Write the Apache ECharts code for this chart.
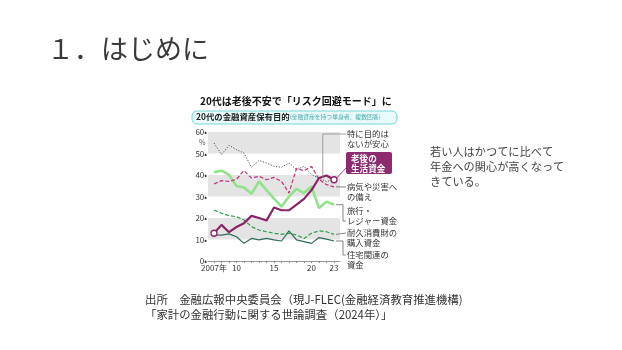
<!DOCTYPE html>
<html><head><meta charset="utf-8">
<script src="https://cdn.jsdelivr.net/npm/echarts@6/dist/echarts.min.js"></script>
<style>html,body{margin:0;padding:0;background:#fff}#c{width:622px;height:350px}</style>
</head><body><div id="c"></div>
<script>
// ---- data ----
const years = [2007,2008,2009,2010,2011,2012,2013,2014,2015,2016,2017,2018,2019,2020,2021,2022,2023];
const noPurpose  = [54.9,49.5,53.8,51.8,50.2,43.6,46.7,45.6,44.0,43.6,45.6,42.5,44.0,40.1,38.6,37.0,37.8];
const retirement = [12.9,16.8,13.4,15.8,17.6,21.0,20.0,18.8,24.9,23.6,23.6,26.2,28.9,33.0,38.6,39.8,37.8];
const illness    = [35.8,37.4,37.0,38.0,42.0,38.6,39.4,37.8,38.9,37.0,31.6,43.0,42.0,44.0,38.0,35.5,34.5];
const leisure    = [41.3,42.0,40.1,34.9,34.2,31.3,37.0,33.0,29.0,25.3,30.0,33.6,31.6,34.7,24.6,27.6,26.2];
const durables   = [23.7,22.2,21.1,20.6,19.1,16.0,14.4,13.6,12.9,12.4,12.9,12.1,10.5,12.9,14.0,13.6,12.4];
const housing    = [12.1,12.0,12.6,11.3,8.2,10.5,9.8,10.5,9.8,9.3,14.0,9.8,9.0,8.2,10.9,10.2,9.3];
const xLabelYears = [2007,2010,2015,2020,2023];
const xLabelTexts = ['2007年','10','15','20','23'];
const yTicks = [0,10,20,30,40,50,60];

const FONT = '"Noto Sans CJK JP", "Noto Sans", sans-serif';
const pairs = arr => years.map((y,i)=>[y,arr[i]]);

const chart = echarts.init(document.getElementById('c'), null, {renderer:'canvas'});

const retData = pairs(retirement).map((p,i,a)=>{
  if(i===0||i===a.length-1){
    return {value:p, symbol:'circle', symbolSize:6, itemStyle:{color:'#fff', borderColor:'#8a2468', borderWidth:1.3}};
  }
  return {value:p, symbol:'none'};
});

chart.setOption({
  animation:false,
  backgroundColor:'#fff',
  textStyle:{fontFamily:FONT},
  grid:{left:208, right:282, top:132, bottom:89},
  xAxis:{
    type:'value', min:2006.2, max:2023.8,
    axisLine:{show:true, lineStyle:{color:'#999', width:1}},
    axisTick:{show:true, customValues:years, length:2, lineStyle:{color:'#888'}},
    axisLabel:{customValues:xLabelYears, fontSize:8, color:'#333', margin:3,
      formatter:v=>{const i=xLabelYears.indexOf(Math.round(v)); return i>=0?xLabelTexts[i]:'';}},
    splitLine:{show:false}
  },
  yAxis:{
    type:'value', min:0, max:60, interval:10,
    axisLine:{show:false}, axisTick:{show:false},
    axisLabel:{fontSize:8, color:'#333', margin:1, formatter:v=>yTicks.includes(v)? v+'•':''},
    splitLine:{show:false},
    splitArea:{show:true, areaStyle:{color:['rgba(255,255,255,0)','#e4e4e4']}}
  },
  series:[
    {type:'line', name:'旅行・レジャー資金', data:pairs(leisure), symbol:'none', lineStyle:{color:'#92e28c', width:2.6}, z:2},
    {type:'line', name:'特に目的はないが安心', data:pairs(noPurpose), symbol:'none', lineStyle:{color:'#555', width:1, type:[1.2,1.6]}, z:3},
    {type:'line', name:'病気や災害への備え', data:pairs(illness), symbol:'none', lineStyle:{color:'#c2307c', width:1.2, type:[4,2]}, z:3},
    {type:'line', name:'耐久消費財の購入資金', data:pairs(durables), symbol:'none', lineStyle:{color:'#2c9e4c', width:1.2, type:[4,2]}, z:3},
    {type:'line', name:'住宅関連の資金', data:pairs(housing), symbol:'none', lineStyle:{color:'#2f6b5a', width:1.2}, z:3},
    {type:'line', name:'老後の生活資金', data:retData, symbol:'none', lineStyle:{color:'#8a2468', width:2.2}, z:4}
  ]
});

// ---- annotations / texts ----
const px = (si, x, y) => chart.convertToPixel({seriesIndex:si}, [x,y]);
const last = arr => arr[arr.length-1];
const endYear = last(years);

const pNo  = px(1, 2021.5, (noPurpose[14]+noPurpose[15])/2);
const pRet = px(5, endYear, last(retirement));
const pIll = px(2, endYear, last(illness));
const pLei = px(0, endYear, last(leisure));
const pDur = px(3, endYear, last(durables));
const pHou = px(4, endYear, last(housing));

const LX = 347;
const lbl = (y, t) => ({type:'text', left:LX, top:y, style:{text:t, font:'8.4px '+FONT, fill:'#333', lineHeight:10}});
const pl = (pts, color) => ({type:'polyline', shape:{points:pts}, style:{stroke:color||'#777', lineWidth:0.8, fill:null}, z:10});

chart.setOption({graphic:[
  {type:'text', left:47, top:35, style:{text:'１．はじめに', font:'27px '+FONT, fill:'#3a3a3a'}},
  {type:'text', left:200, top:96, style:{text:'20代は老後不安で「リスク回避モード」に', font:'bold 10px '+FONT, fill:'#111'}},
  {type:'rect', shape:{x:192, y:111, width:205, height:13, r:5}, style:{fill:'#e8fafa', stroke:'#78d6d6', lineWidth:1}},
  {type:'text', left:196, top:112.5, style:{
    text:'{a|20代の金融資産保有目的}{b|(金融資産を持つ単身者、複数回答)}',
    rich:{a:{font:'bold 8.4px '+FONT, fill:'#222'}, b:{font:'5.8px '+FONT, fill:'#4aa9a9'}}}},
  {type:'text', left:199, top:139, style:{text:'%', font:'7px '+FONT, fill:'#555'}},

  lbl(129, '特に目的は\nないが安心'),
  {type:'rect', shape:{x:346, y:152, width:46, height:22, r:2}, style:{fill:'#8e2a6e'}},
  {type:'text', left:351, top:153, style:{text:'老後の\n生活資金', font:'bold 8.6px '+FONT, fill:'#fff', lineHeight:10.5}},
  lbl(182, '病気や災害へ\nの備え'),
  lbl(206, '旅行・\nレジャー資金'),
  lbl(228, '耐久消費財の\n購入資金'),
  lbl(250, '住宅関連の\n資金'),

  pl([[pNo[0], pNo[1]-2],[pNo[0],134],[LX-1,134]], '#888'),
  pl([[pRet[0]+3, pRet[1]-2],[LX-1,168]], '#8a2468'),
  pl([[pIll[0]+2, pIll[1]],[LX-1, 187]], '#666'),
  pl([[pLei[0]+2, pLei[1]],[LX-4, pLei[1]],[LX-4,221],[LX-1,221]], '#666'),
  pl([[pDur[0]+2, pDur[1]],[LX-1, 233]], '#666'),
  pl([[pHou[0]+2, pHou[1]],[LX-4, pHou[1]],[LX-4,255],[LX-1,255]], '#666'),

  {type:'text', left:430, top:144, style:{text:'若い人はかつてに比べて\n年金への関心が高くなって\nきている。', font:'11.2px '+FONT, fill:'#444', lineHeight:15}},
  {type:'text', left:145, top:292, style:{text:'出所　金融広報中央委員会（現J-FLEC(金融経済教育推進機構)\n「家計の金融行動に関する世論調査（2024年）」', font:'11.4px '+FONT, fill:'#333', lineHeight:15}}
]});
</script>
</body></html>
